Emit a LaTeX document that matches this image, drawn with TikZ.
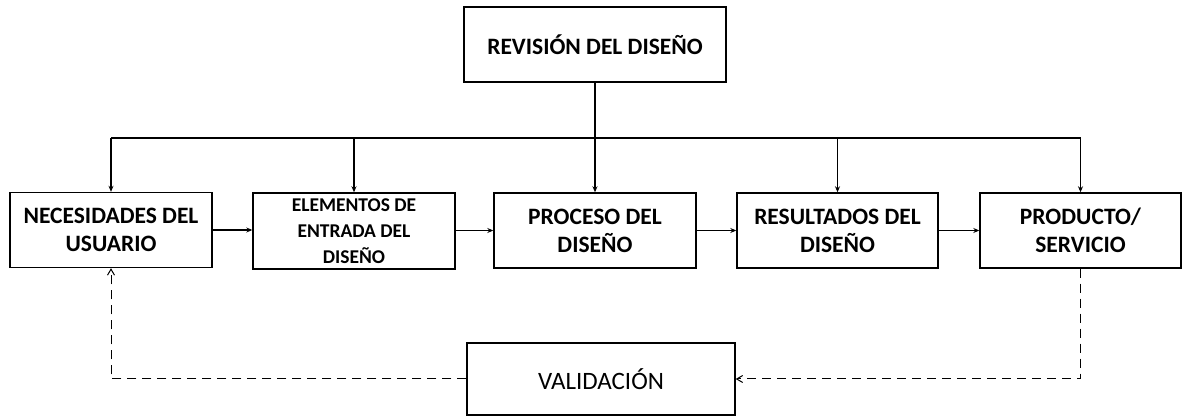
\documentclass[tikz,border=0pt]{standalone}
\usepackage{fontspec}
\setmainfont{Carlito}
\usetikzlibrary{arrows.meta}
\begin{document}
\begin{tikzpicture}[x=1pt,y=-1pt,
  box/.style={draw,line width=1.4pt,align=center,inner sep=2pt,font=\bfseries\fontsize{23.5}{28}\selectfont},
  conn/.style={line width=1.3pt,-{Stealth[length=6pt,width=5pt]}},
  bus/.style={line width=1.3pt},
  loop/.style={line width=1pt,dash pattern=on 9pt off 6pt},
  looparrow/.style={loop,-{Straight Barb[length=6pt,width=7pt]}}]
\useasboundingbox (0,0) rectangle (1183,419);
\node[box,minimum width=262pt,minimum height=75pt] (rev) at (595,44.5) {REVISIÓN DEL DISEÑO};
\node[box,minimum width=202pt,minimum height=75pt] (nec) at (111,230) {NECESIDADES DEL\\USUARIO};
\node[box,minimum width=202pt,minimum height=76pt,font=\bfseries\fontsize{19.5}{26}\selectfont] (ele) at (354,231) {ELEMENTOS DE\\ENTRADA DEL\\DISEÑO};
\node[box,minimum width=202pt,minimum height=75pt] (pro) at (595,230.5) {PROCESO DEL\\DISEÑO};
\node[box,minimum width=201pt,minimum height=75pt] (res) at (837.5,230.5) {RESULTADOS DEL\\DISEÑO};
\node[box,minimum width=201pt,minimum height=75pt] (prd) at (1080.5,230.5) {PRODUCTO/\\SERVICIO};
\node[box,minimum width=268pt,minimum height=72pt,font=\fontsize{25}{30}\selectfont] (val) at (601,379) {VALIDACIÓN};
\coordinate (busy) at (0,138);
\draw[bus] (nec.north |- busy) -- (prd.north |- busy);
\draw[conn] (rev.south) -- (pro.north);
\draw[conn] (nec.north |- busy) -- (nec.north);
\draw[conn] (ele.north |- busy) -- (ele.north);
\draw[conn] (res.north |- busy) -- (res.north);
\draw[conn] (prd.north |- busy) -- (prd.north);
\draw[conn] (nec.east) -- (ele.west |- nec.east);
\draw[conn] (ele.east |- pro.west) -- (pro.west);
\draw[conn] (pro.east) -- (res.west);
\draw[conn] (res.east) -- (prd.west);
\draw[looparrow] (val.west) -- (nec.south |- val.west) -- (nec.south);
\draw[looparrow] (prd.south) -- (prd.south |- val.east) -- (val.east);
\end{tikzpicture}
\end{document}
